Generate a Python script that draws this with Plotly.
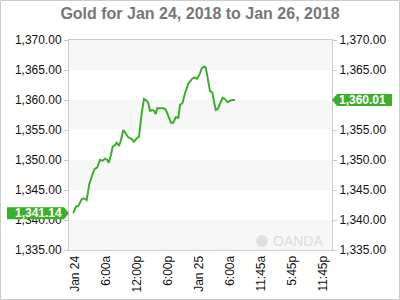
import plotly.graph_objects as go

# hours since Jan 24, 2018 00:00
hours = [-0.33, 0.19, 0.64, 1.30, 1.74, 2.26, 2.77, 3.29, 3.74, 4.32,
         4.84, 5.36, 5.81, 6.25, 6.52, 6.91, 7.30, 7.74, 8.07, 8.52,
         8.90, 9.35, 9.87, 10.32, 10.97, 11.42, 11.94, 12.39, 12.91, 13.35,
         13.88, 14.19, 14.52, 14.96, 15.29, 15.62, 15.93, 16.45, 17.09, 17.55,
         18.06, 18.58, 19.02, 19.49, 19.80, 19.99, 20.32, 20.81, 21.29, 21.93,
         22.59, 23.13, 23.61, 24.10, 24.52, 24.97, 25.30, 25.80, 26.13, 26.57,
         26.96, 27.23, 27.62, 28.06, 28.59, 29.03, 29.55, 30.00, 30.44, 30.97]
prices = [1341.14, 1342.22, 1342.33, 1343.45, 1343.62, 1343.33, 1346.00, 1347.22, 1348.45, 1348.78,
          1350.00, 1349.88, 1350.22, 1350.00, 1349.55, 1350.67, 1352.22, 1352.50, 1352.88, 1352.33,
          1353.33, 1355.00, 1354.45, 1353.78, 1353.50, 1353.05, 1353.62, 1353.88, 1357.78, 1360.17,
          1359.88, 1359.45, 1358.17, 1358.33, 1358.22, 1357.67, 1358.62, 1358.62, 1358.62, 1358.45,
          1357.22, 1356.22, 1356.22, 1357.12, 1357.12, 1356.95, 1359.17, 1359.50, 1361.12, 1362.70,
          1363.47, 1363.75, 1363.55, 1364.25, 1365.28, 1365.55, 1365.45, 1363.05, 1361.50, 1361.28,
          1359.17, 1358.33, 1358.50, 1359.45, 1360.38, 1360.17, 1359.62, 1359.88, 1360.00, 1360.01]

tick_hours = [0, 6, 12, 18, 24, 30, 36, 42, 48]
tick_text = ["Jan 24", "6:00a", "12:00p", "6:00p", "Jan 25", "6:00a", "11:45a", "5:45p", "11:45p"]
y_ticks = [1335, 1340, 1345, 1350, 1355, 1360, 1365, 1370]
bands = [(1335, 1340), (1345, 1350), (1355, 1360), (1365, 1370)]

GREEN = "#3dae2b"
FONT = "Liberation Sans, Arial, sans-serif"
L, R, T, B = 69, 68, 40, 50
PW, PH = 400 - L - R, 300 - T - B

fig = go.Figure()
fig.add_trace(go.Scatter(x=hours, y=prices, mode="lines",
                         line=dict(color=GREEN, width=2), hoverinfo="skip"))
fig.add_trace(go.Scatter(x=hours, y=prices, mode="lines", yaxis="y2",
                         line=dict(color="rgba(0,0,0,0)", width=0), hoverinfo="skip"))

shapes = []
for lo, hi in bands:
    shapes.append(dict(type="rect", xref="paper", yref="y", x0=0, x1=1, y0=lo, y1=hi,
                       fillcolor="#f7f7f7", line=dict(width=0), layer="below"))
# outer border of the image
shapes.append(dict(type="rect", xref="paper", yref="paper",
                   x0=-(L - 0.5) / PW, x1=(400 - L - 0.5) / PW,
                   y0=-(B - 0.5) / PH, y1=1 + (T - 0.5) / PH,
                   line=dict(color="#cccccc", width=1)))
# price labels (pointer boxes)
first, last = prices[0], prices[-1]
shapes.append(dict(type="path", xref="paper", yref="y", xsizemode="pixel", ysizemode="pixel",
                   xanchor=0, yanchor=first,
                   path="M 0 0 L -5 6 L -62 6 L -62 -6 L -5 -6 Z",
                   fillcolor=GREEN, line=dict(width=0)))
shapes.append(dict(type="path", xref="paper", yref="y", xsizemode="pixel", ysizemode="pixel",
                   xanchor=1, yanchor=last,
                   path="M 0 0 L 5 6 L 60 6 L 60 -6 L 5 -6 Z",
                   fillcolor=GREEN, line=dict(width=0)))
# OANDA logo circle
shapes.append(dict(type="circle", xref="paper", yref="paper",
                   x0=(256 - L) / PW, x1=(268 - L) / PW,
                   y0=(250 - 247) / PH, y1=(250 - 235) / PH,
                   fillcolor="#e0e0e0", line=dict(width=0)))

annotations = [
    dict(text=f"{first:,.2f}", xref="paper", yref="y", x=-5 / PW, y=first,
         xanchor="right", yanchor="middle", showarrow=False,
         font=dict(family=FONT, size=12, color="white", weight="bold")),
    dict(text=f"{last:,.2f}", xref="paper", yref="y", x=1 + 5 / PW, y=last,
         xanchor="left", yanchor="middle", showarrow=False,
         font=dict(family=FONT, size=12, color="white", weight="bold")),
    dict(text="OANDA", xref="paper", yref="paper", x=(325 - L) / PW, y=(250 - 241) / PH,
         xanchor="right", yanchor="middle", showarrow=False,
         font=dict(family=FONT, size=14, color="#dcdcdc")),
]

yax = dict(range=[1335, 1370], tickvals=y_ticks, tickformat=",.2f", automargin=False,
           showgrid=False, zeroline=False, showline=True, linecolor="#cccccc",
           ticks="outside", ticklen=4, tickcolor="#cccccc",
           tickfont=dict(family=FONT, size=12, color="#111111"))

fig.update_layout(
    width=400, height=300,
    margin=dict(l=L, r=R, t=T, b=B),
    paper_bgcolor="white", plot_bgcolor="white",
    showlegend=False,
    title=dict(text="Gold for Jan 24, 2018 to Jan 26, 2018", x=0.5, xanchor="center",
               y=1 - 13 / 300, yanchor="middle", automargin=False,
               font=dict(family=FONT, size=16, color="#777777", weight="bold")),
    xaxis=dict(range=[-1.16, 49.74], tickvals=tick_hours, ticktext=tick_text, tickangle=-90,
               automargin=False,
               showgrid=False, zeroline=False, showline=True, mirror=True, linecolor="#cccccc",
               ticks="", tickfont=dict(family=FONT, size=12, color="#111111")),
    yaxis=yax,
    yaxis2=dict(yax, overlaying="y", side="right"),
    shapes=shapes,
    annotations=annotations,
)

fig.write_html("out.html")
